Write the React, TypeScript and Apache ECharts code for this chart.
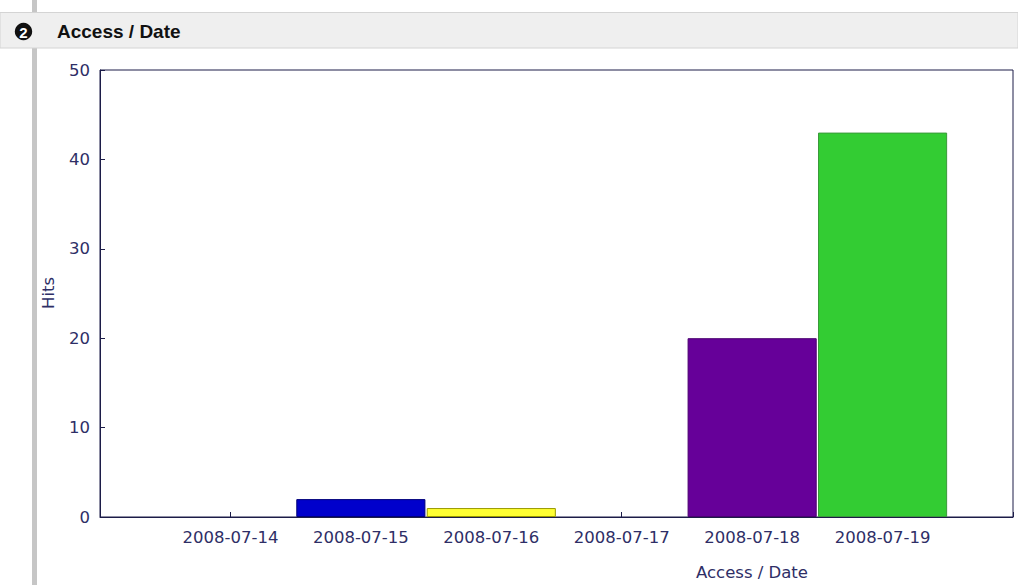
import React, { useEffect, useRef } from "react";
import * as echarts from "echarts";

const categories = ["", "2008-07-14", "2008-07-15", "2008-07-16", "2008-07-17", "2008-07-18", "2008-07-19", ""];
const hits: (number | null)[] = [null, 0, 2, 1, 0, 20, 43, null];
const barColors = ["#ffffff", "#cc0000", "#0000cc", "#ffff33", "#ff9900", "#660099", "#33cc33", "#ffffff"];
const barBorders = ["#ffffff", "#880000", "#00007a", "#999900", "#996600", "#4a0070", "#3a9a3a", "#ffffff"];
const yTicks = { min: 0, max: 50, interval: 10 };
const title = "Access / Date";
const yName = "Hits";
const xName = "Access / Date";

const labelColor = "#2e2e66";
const axisColor = "#1c1c48";
const font = "DejaVu Sans";

export default function App() {
  const ref = useRef<HTMLDivElement>(null);
  useEffect(() => {
    if (!ref.current) return;
    const chart = echarts.init(ref.current, undefined, { renderer: "svg" });
    chart.setOption({
      animation: false,
      backgroundColor: "#ffffff",
      grid: {
        left: 100,
        top: 70,
        right: 5,
        bottom: 68,
        show: true,
        borderColor: axisColor,
        borderWidth: 1,
        backgroundColor: "transparent",
      },
      xAxis: {
        type: "category",
        data: categories,
        boundaryGap: false,
        axisLine: { lineStyle: { color: axisColor, width: 1 } },
        axisTick: { inside: true, length: 5, lineStyle: { color: axisColor } },
        axisLabel: { color: labelColor, fontFamily: font, fontSize: 16.5, margin: 12, interval: 0 },
        splitLine: { show: false },
      },
      yAxis: {
        type: "value",
        min: yTicks.min,
        max: yTicks.max,
        interval: yTicks.interval,
        axisLine: { show: true, lineStyle: { color: axisColor, width: 1 } },
        axisTick: { show: true, inside: true, length: 5, lineStyle: { color: axisColor } },
        axisLabel: { color: labelColor, fontFamily: font, fontSize: 16.5, margin: 10 },
        splitLine: { show: false },
      },
      series: [
        {
          type: "bar",
          barCategoryGap: "1%",
          data: hits.map((v, i) => ({
            value: v,
            itemStyle: { color: barColors[i], borderColor: barBorders[i], borderWidth: v ? 1 : 0 },
          })),
        },
      ],
      graphic: [
        { type: "rect", shape: { x: 32, y: 0, width: 5, height: 585 }, style: { fill: "#c6c6c6" }, z: 1 },
        {
          type: "rect",
          shape: { x: 0, y: 12.5, width: 1018, height: 35.5 },
          style: { fill: "#efefef", stroke: "#d4d4d4", lineWidth: 1 },
          z: 2,
        },
        { type: "circle", shape: { cx: 23.5, cy: 31.5, r: 8.7 }, style: { fill: "#111111" }, z: 3 },
        {
          type: "text",
          x: 23.5,
          y: 32,
          style: { text: "2", fill: "#ffffff", font: "bold 15px Liberation Sans", align: "center", verticalAlign: "middle" },
          z: 4,
        },
        {
          type: "text",
          x: 57,
          y: 31,
          style: { text: title, fill: "#111111", font: "bold 19px Liberation Sans", align: "left", verticalAlign: "middle" },
          z: 4,
        },
        {
          type: "text",
          x: 48,
          y: 293,
          rotation: Math.PI / 2,
          style: { text: yName, fill: labelColor, font: `16.5px ${font}`, align: "center", verticalAlign: "middle" },
          z: 4,
        },
        {
          type: "text",
          x: 752,
          y: 572,
          style: { text: xName, fill: labelColor, font: `16.5px ${font}`, align: "center", verticalAlign: "middle" },
          z: 4,
        },
      ],
    });
    return () => chart.dispose();
  }, []);
  return (
    <div
      ref={ref}
      style={{ position: "absolute", left: 0, top: 0, width: 1018, height: 585 }}
    />
  );
}
